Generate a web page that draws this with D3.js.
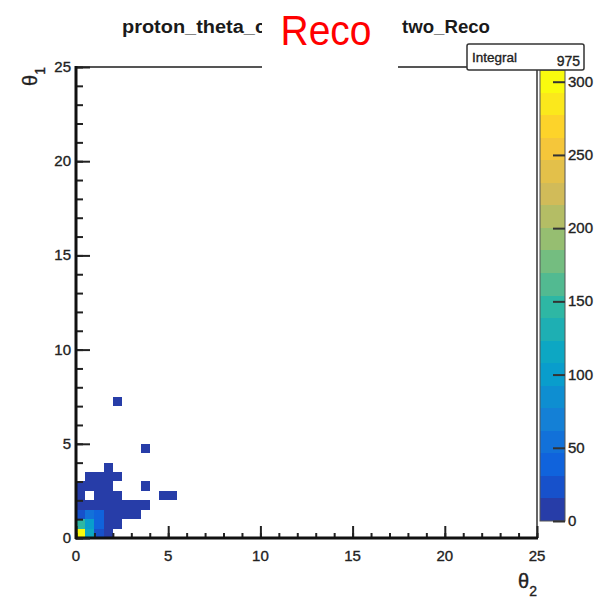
<!DOCTYPE html>
<html>
<head>
<meta charset="utf-8">
<script src="https://cdn.jsdelivr.net/npm/d3@7"></script>
<style>
  body { margin: 0; background: #fff; }
  svg { display: block; }
  text { font-family: "Liberation Sans", Arial, Helvetica, sans-serif; }
  .lab { stroke: #222; stroke-width: 0.35px; }
</style>
</head>
<body>
<div id="hist2d"></div>
<script>
// histogram contents (lower bin edges, bin width 0.5 in both directions)
var cellTheta2 = [0, 0.5, 1.0, 1.5,
                  0, 0.5, 1.0, 1.5, 2.0,
                  0, 0.5, 1.0, 1.5, 2.0, 2.5, 3.0,
                  0, 0.5, 1.0, 1.5, 2.0, 2.5, 3.0, 3.5,
                  0, 1.0, 1.5, 2.0, 4.5, 5.0,
                  0, 0.5, 1.0, 1.5, 3.5,
                  0.5, 1.0, 1.5, 2.0,
                  1.5,
                  3.5,
                  2.0];
var cellTheta1 = [0, 0, 0, 0,
                  0.5, 0.5, 0.5, 0.5, 0.5,
                  1.0, 1.0, 1.0, 1.0, 1.0, 1.0, 1.0,
                  1.5, 1.5, 1.5, 1.5, 1.5, 1.5, 1.5, 1.5,
                  2.0, 2.0, 2.0, 2.0, 2.0, 2.0,
                  2.5, 2.5, 2.5, 2.5, 2.5,
                  3.0, 3.0, 3.0, 3.0,
                  3.5,
                  4.5,
                  7.0];
var cellCounts = [308, 121, 25, 15,
                  140, 100, 40, 14, 4,
                  28, 60, 35, 6, 3, 2, 1,
                  9, 14, 8, 5, 3, 2, 1, 1,
                  3, 4, 3, 2, 1, 1,
                  2, 3, 2, 1, 1,
                  1, 1, 1, 1,
                  1,
                  1,
                  1];

var binWidth = 0.5;
var xTicks = [0, 5, 10, 15, 20, 25];
var yTicks = [0, 5, 10, 15, 20, 25];
var zTicks = [0, 50, 100, 150, 200, 250, 300];
var zMax = 308;
var nContours = 20;

var titleLeft = "proton_theta_c";
var titleRight = "two_Reco";
var overlayText = "Reco";
var statsLabel = "Integral";
var statsValue = "975";

// ROOT kBird palette stops
var birdStops = [0.0000, 0.1250, 0.2500, 0.3750, 0.5000, 0.6250, 0.7500, 0.8750, 1.0000];
var birdRed   = [0.2082, 0.0592, 0.0780, 0.0232, 0.1802, 0.5301, 0.8186, 0.9956, 0.9764];
var birdGreen = [0.1664, 0.3599, 0.5041, 0.6419, 0.7178, 0.7492, 0.7328, 0.7862, 0.9832];
var birdBlue  = [0.5293, 0.8684, 0.8385, 0.7914, 0.6425, 0.4662, 0.3499, 0.1968, 0.0539];

function birdColor(f) {
    var r = d3.scaleLinear().domain(birdStops).range(birdRed).clamp(true);
    var g = d3.scaleLinear().domain(birdStops).range(birdGreen).clamp(true);
    var b = d3.scaleLinear().domain(birdStops).range(birdBlue).clamp(true);
    return d3.rgb(r(f) * 255, g(f) * 255, b(f) * 255).formatHex();
}

// same level -> colour rule as THistPainter (255 colours, 20 levels)
function levelColor(level) {
    var idx = Math.floor((level + 0.99) * 255 / nContours);
    return birdColor(idx / 254);
}

function valueColor(v) {
    var level = Math.floor(0.01 + v * nContours / zMax);
    level = Math.min(level, nContours - 1);
    return levelColor(level);
}

var width = 615, height = 606;
var svg = d3.select('#hist2d').append('svg')
    .attr('width', width)
    .attr('height', height);

var x = d3.scaleLinear().domain([0, 25]).range([76, 537]);
var y = d3.scaleLinear().domain([0, 25]).range([538, 67]);
var z = d3.scaleLinear().domain([0, zMax]).range([521, 70]);

// bins
svg.append('g').selectAll('rect')
    .data(cellCounts)
    .enter()
    .append('rect')
    .attr('x', function(d, i) { return x(cellTheta2[i]); })
    .attr('y', function(d, i) { return y(cellTheta1[i] + binWidth); })
    .attr('width', function(d, i) { return x(cellTheta2[i] + binWidth) - x(cellTheta2[i]); })
    .attr('height', function(d, i) { return y(cellTheta1[i]) - y(cellTheta1[i] + binWidth); })
    .attr('fill', function(d) { return valueColor(d); })
    .attr('shape-rendering', 'crispEdges');

// frame top / right
svg.append('line').attr('x1', x(0)).attr('x2', x(25)).attr('y1', y(25)).attr('y2', y(25))
    .attr('stroke', '#555').attr('stroke-width', 2);
svg.append('line').attr('x1', x(25)).attr('x2', x(25)).attr('y1', y(25)).attr('y2', y(0))
    .attr('stroke', '#666').attr('stroke-width', 2);

// x axis, ticks pointing inside
var xAxis = svg.append('g').attr('transform', 'translate(0,' + y(0) + ')');
xAxis.append('g')
    .call(d3.axisTop(x).tickValues(d3.range(0, 26, 1)).tickSize(5).tickFormat(''))
    .call(function(g) { g.select('.domain').remove(); })
    .selectAll('line').attr('stroke', '#222').attr('stroke-width', 2);
xAxis.append('g')
    .call(d3.axisTop(x).tickValues(xTicks).tickSize(12).tickFormat(''))
    .call(function(g) { g.select('.domain').remove(); })
    .selectAll('line').attr('stroke', '#222').attr('stroke-width', 2);
xAxis.append('line').attr('x1', x(0) - 1).attr('x2', x(25) + 1)
    .attr('stroke', '#111').attr('stroke-width', 3);
xAxis.selectAll('text.xlab')
    .data(xTicks)
    .enter()
    .append('text')
    .attr('class', 'xlab lab')
    .attr('x', function(d) { return x(d); })
    .attr('y', 23)
    .attr('text-anchor', 'middle')
    .attr('font-size', 15)
    .attr('fill', '#222')
    .text(function(d) { return d; });

// y axis
var yAxis = svg.append('g').attr('transform', 'translate(' + x(0) + ',0)');
yAxis.append('g')
    .call(d3.axisRight(y).tickValues(d3.range(0, 26, 1)).tickSize(7).tickFormat(''))
    .call(function(g) { g.select('.domain').remove(); })
    .selectAll('line').attr('stroke', '#222').attr('stroke-width', 2);
yAxis.append('g')
    .call(d3.axisRight(y).tickValues(yTicks).tickSize(14).tickFormat(''))
    .call(function(g) { g.select('.domain').remove(); })
    .selectAll('line').attr('stroke', '#222').attr('stroke-width', 2);
yAxis.append('line').attr('y1', y(25) - 1).attr('y2', y(0) + 1)
    .attr('stroke', '#111').attr('stroke-width', 3);
yAxis.selectAll('text.ylab')
    .data(yTicks)
    .enter()
    .append('text')
    .attr('class', 'ylab lab')
    .attr('x', -5)
    .attr('y', function(d) { return y(d) + 5; })
    .attr('text-anchor', 'end')
    .attr('font-size', 15)
    .attr('fill', '#222')
    .text(function(d) { return d; });

// axis titles
var xt = svg.append('text')
    .attr('class', 'lab')
    .attr('x', x(25))
    .attr('y', 588)
    .attr('text-anchor', 'end')
    .attr('font-size', 20)
    .attr('fill', '#222');
xt.append('tspan').text('\u03b8');
xt.append('tspan').attr('font-size', 14).attr('dy', 8).text('2');

var yt = svg.append('text')
    .attr('class', 'lab')
    .attr('transform', 'translate(37,' + y(25) + ') rotate(-90)')
    .attr('text-anchor', 'end')
    .attr('font-size', 20)
    .attr('fill', '#222');
yt.append('tspan').text('\u03b8');
yt.append('tspan').attr('font-size', 14).attr('dy', 8).text('1');

// colour palette
var bands = d3.range(nContours);
svg.append('g').selectAll('rect')
    .data(bands)
    .enter()
    .append('rect')
    .attr('x', 540)
    .attr('width', 25)
    .attr('y', function(d) { return z((d + 1) * zMax / nContours); })
    .attr('height', function(d) { return z(d * zMax / nContours) - z((d + 1) * zMax / nContours); })
    .attr('fill', function(d) { return levelColor(d); })
    .attr('shape-rendering', 'crispEdges');
svg.append('rect').attr('x', 540).attr('y', z(zMax)).attr('width', 25)
    .attr('height', z(0) - z(zMax))
    .attr('fill', 'none').attr('stroke', '#555').attr('stroke-width', 1);

var zAxis = svg.append('g').attr('transform', 'translate(565,0)');
zAxis.append('g')
    .call(d3.axisLeft(z).tickValues(zTicks).tickSize(12).tickFormat(''))
    .call(function(g) { g.select('.domain').remove(); })
    .selectAll('line').attr('stroke', '#333').attr('stroke-width', 2);
zAxis.selectAll('text.zlab')
    .data(zTicks)
    .enter()
    .append('text')
    .attr('class', 'zlab lab')
    .attr('x', 3)
    .attr('y', function(d) { return z(d) + 5; })
    .attr('font-size', 15)
    .attr('fill', '#222')
    .text(function(d) { return d; });
// the slide crop cuts the palette labels
svg.append('rect').attr('x', 597).attr('y', 0).attr('width', 18).attr('height', height)
    .attr('fill', '#fff');

// stats box
svg.append('rect')
    .attr('x', 467).attr('y', 44).attr('width', 117).attr('height', 26)
    .attr('rx', 2)
    .attr('fill', '#fff').attr('stroke', '#333').attr('stroke-width', 1.5);
svg.append('text').attr('class', 'lab').attr('x', 472).attr('y', 62)
    .attr('font-size', 13.5).attr('fill', '#222').text(statsLabel);
svg.append('text').attr('class', 'lab').attr('x', 580).attr('y', 66).attr('text-anchor', 'end')
    .attr('font-size', 14).attr('fill', '#222').text(statsValue);

// title, partly hidden by the slide label
svg.append('text').attr('x', 122).attr('y', 33)
    .attr('font-size', 18).attr('font-weight', 'bold').attr('fill', '#1a1a1a')
    .attr('textLength', 144).attr('lengthAdjust', 'spacingAndGlyphs')
    .text(titleLeft);
svg.append('text').attr('x', 402).attr('y', 33)
    .attr('font-size', 18).attr('font-weight', 'bold').attr('fill', '#1a1a1a')
    .attr('textLength', 88).attr('lengthAdjust', 'spacingAndGlyphs')
    .text(titleRight);

svg.append('rect').attr('x', 262).attr('y', 0).attr('width', 136).attr('height', 68)
    .attr('fill', '#fff');
svg.append('text').attr('x', 326).attr('y', 45)
    .attr('text-anchor', 'middle')
    .attr('font-size', 42).attr('fill', '#ff0000')
    .attr('textLength', 91).attr('lengthAdjust', 'spacingAndGlyphs')
    .text(overlayText);
</script>
</body>
</html>
